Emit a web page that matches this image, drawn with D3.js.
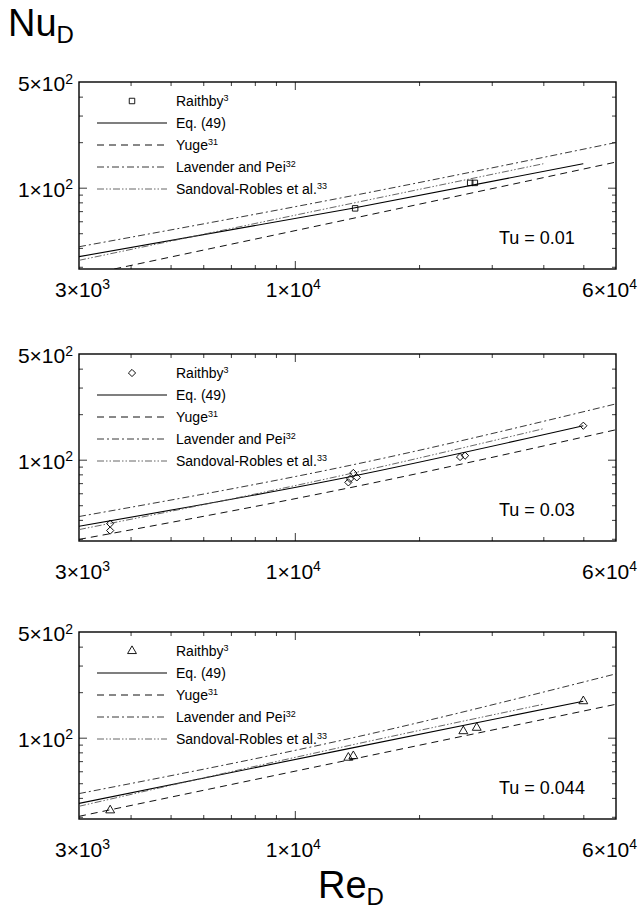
<!DOCTYPE html>
<html><head><meta charset="utf-8">
<script src="https://cdn.jsdelivr.net/npm/d3@7"></script>
<style>body{margin:0;background:#fff} svg{display:block}</style>
</head><body>
<svg id="c" width="640" height="913"></svg>
<script>
// ---------- data ----------
const tuLabels = ["Tu = 0.01", "Tu = 0.03", "Tu = 0.044"];
const xTicks = [3000, 10000, 60000];
const xTickText = [["3×10", "3"], ["1×10", "4"], ["6×10", "4"]];
const xMinor = [4000, 5000, 6000, 7000, 8000, 9000, 20000, 30000, 40000, 50000];
const yTicks = [500, 100];
const yTickText = [["5×10", "2"], ["1×10", "2"]];
const yMinor = [30, 40, 50, 60, 70, 80, 90, 200, 300, 400];

const reEq49 = [3000, 13600, 50000];
const nuEq49 = [[35.0, 72.5, 144.0], [36.3, 77.2, 167.7], [36.8, 85.0, 174.4]];
const reYuge = [3000, 13600, 60000];
const nuYuge = [[25.9, 62.1, 147.7], [29.7, 65.3, 157.8], [30.2, 71.5, 166.4]];
const reLav = [3000, 13600, 60000];
const nuLav = [[40.7, 87.9, 199], [42.1, 91.7, 234], [42.7, 98.9, 264.5]];
const reSand = [3000, 13600, 40000];
const nuSand = [[33.1, 78.3, 144], [34.5, 80.8, 160.2], [35.2, 89.0, 166.4]];

const reRaithby = [
  [14000, 26600, 27300],
  [3570, 3570, 13480, 13610, 13860, 14130, 25140, 25850, 50000],
  [3570, 13480, 13860, 25600, 27590, 50000]
];
const nuRaithby = [
  [73.0, 107.6, 107.6],
  [37.8, 34.0, 70.8, 74.6, 81.7, 76.4, 104.2, 106.3, 167.7],
  [33.1, 73.8, 75.6, 110.5, 116.4, 174.4]
];
const markerTypes = ["square", "diamond", "triangle"];
const legendNames = [["Raithby", "3"], ["Eq. (49)", ""], ["Yuge", "31"], ["Lavender and Pei", "32"], ["Sandoval-Robles et al.", "33"]];

// ---------- layout ----------
const svg = d3.select("#c");
const X0 = 79, X1 = 616, PH = 187;
const panelTops = [82, 354, 632];
const xLabelOffset = [20, 30, 30];
const xLabelShift = [3, -2, -7];
const FONT = "'Liberation Sans', Arial, Helvetica, sans-serif";

const x = d3.scaleLog().domain([3000, 60000]).range([X0, X1]);

const styles = [
  {dash: null, color: "#000", w: 1.1},
  {dash: "7,5", color: "#111", w: 1.0},
  {dash: "7,3,2,3", color: "#222", w: 0.9},
  {dash: "7,2,1.5,2,1.5,2", color: "#555", w: 0.9}
];

function supText(sel, main, sup, supSize) {
  sel.append("tspan").text(main);
  if (sup) sel.append("tspan").attr("dy", "-0.55em").attr("font-size", supSize).text(sup);
}

panelTops.forEach((top, p) => {
  const bottom = top + PH;
  const y = d3.scaleLog().domain([29, 500]).range([bottom, top]);
  const g = svg.append("g");

  const clipId = "clip" + p;
  svg.append("clipPath").attr("id", clipId).append("rect")
    .attr("x", X0).attr("y", top).attr("width", X1 - X0).attr("height", PH);

  // minor / major ticks, all four sides, inward
  const mk = (axis, tr, vals, size) => g.append("g").attr("transform", tr)
    .call(axis.tickValues(vals).tickSize(size).tickFormat(""))
    .call(s => s.select(".domain").remove())
    .call(s => s.selectAll("line").attr("stroke", "#222").attr("stroke-width", 0.9));
  mk(d3.axisBottom(x), `translate(0,${bottom})`, xMinor, -4);
  mk(d3.axisTop(x), `translate(0,${top})`, xMinor, -4);
  mk(d3.axisBottom(x), `translate(0,${bottom})`, [10000], -8);
  mk(d3.axisTop(x), `translate(0,${top})`, [10000], -8);
  mk(d3.axisLeft(y), `translate(${X0},0)`, yMinor, -4);
  mk(d3.axisRight(y), `translate(${X1},0)`, yMinor, -4);
  mk(d3.axisLeft(y), `translate(${X0},0)`, [100], -8);
  mk(d3.axisRight(y), `translate(${X1},0)`, [100], -8);

  // tick labels via axes
  const xa = g.append("g").attr("transform", `translate(0,${bottom})`)
    .call(d3.axisBottom(x).tickValues(xTicks).tickSize(0).tickPadding(xLabelOffset[p] - 7).tickFormat(""));
  xa.select(".domain").remove();
  xa.selectAll(".tick text").each(function(d, i) {
    const t = d3.select(this).attr("font-family", FONT).attr("font-size", 21)
      .attr("fill", "#000").attr("text-anchor", "middle").attr("dx", xLabelShift[i]);
    supText(t, xTickText[i][0], xTickText[i][1], 14);
  });
  const ya = g.append("g").attr("transform", `translate(${X0},0)`)
    .call(d3.axisLeft(y).tickValues(yTicks).tickSize(0).tickPadding(6).tickFormat(""));
  ya.select(".domain").remove();
  ya.selectAll(".tick text").each(function(d, i) {
    const t = d3.select(this).attr("font-family", FONT).attr("font-size", 21)
      .attr("fill", "#000").attr("dy", "0.42em");
    supText(t, yTickText[i][0], yTickText[i][1], 14);
  });

  // frame
  g.append("rect").attr("x", X0).attr("y", top).attr("width", X1 - X0).attr("height", PH)
    .attr("fill", "none").attr("stroke", "#000").attr("stroke-width", 1.4);

  // curves
  const series = [[reEq49, nuEq49[p]], [reYuge, nuYuge[p]], [reLav, nuLav[p]], [reSand, nuSand[p]]];
  const line = d3.line().x(d => x(d[0])).y(d => y(d[1])).curve(d3.curveMonotoneX);
  const lg = g.append("g").attr("clip-path", `url(#${clipId})`);
  series.forEach((s, k) => {
    const pts = s[0].map((r, i) => [r, s[1][i]]);
    lg.append("path").attr("d", line(pts)).attr("fill", "none")
      .attr("stroke", styles[k].color).attr("stroke-width", styles[k].w)
      .attr("stroke-dasharray", styles[k].dash);
  });

  // markers
  const mtype = markerTypes[p];
  const sym = mtype === "triangle" ? d3.symbolTriangle : d3.symbolSquare;
  const msize = mtype === "square" ? 30 : (mtype === "diamond" ? 26 : 34);
  const drawMarker = (sel, cx, cy) => sel.append("path")
    .attr("d", d3.symbol().type(sym).size(msize)())
    .attr("transform", `translate(${cx},${cy})` + (mtype === "diamond" ? " rotate(45)" : ""))
    .attr("fill", "none").attr("stroke", "#000").attr("stroke-width", 0.9);
  reRaithby[p].forEach((r, i) => drawMarker(g, x(r), y(nuRaithby[p][i])));

  // legend
  const lx0 = 97, lx1 = 167, tx = 176;
  const rows = [top + 19, top + 41, top + 63, top + 85, top + 107];
  drawMarker(g, 132, rows[0]);
  styles.forEach((st, k) => {
    g.append("line").attr("x1", lx0).attr("x2", lx1).attr("y1", rows[k + 1]).attr("y2", rows[k + 1])
      .attr("stroke", st.color).attr("stroke-width", st.w).attr("stroke-dasharray", st.dash);
  });
  legendNames.forEach((nm, k) => {
    const t = g.append("text").attr("x", tx).attr("y", rows[k]).attr("dy", "0.35em")
      .attr("font-family", FONT).attr("font-size", 14).attr("fill", "#000");
    supText(t, nm[0], nm[1], 9);
  });

  // Tu label
  g.append("text").attr("x", 499).attr("y", bottom - 31).attr("dy", "0.36em")
    .attr("font-family", FONT).attr("font-size", 18).attr("fill", "#000").text(tuLabels[p]);
});

// axis titles
const nu = svg.append("text").attr("x", 8).attr("y", 36).attr("font-family", FONT)
  .attr("font-size", 38).attr("fill", "#000");
nu.append("tspan").text("Nu");
nu.append("tspan").attr("dy", "0.3em").attr("font-size", 24).text("D");

const re = svg.append("text").attr("x", 318).attr("y", 898).attr("font-family", FONT)
  .attr("font-size", 38).attr("fill", "#000");
re.append("tspan").text("Re");
re.append("tspan").attr("dy", "0.3em").attr("font-size", 24).text("D");
</script>
</body></html>
